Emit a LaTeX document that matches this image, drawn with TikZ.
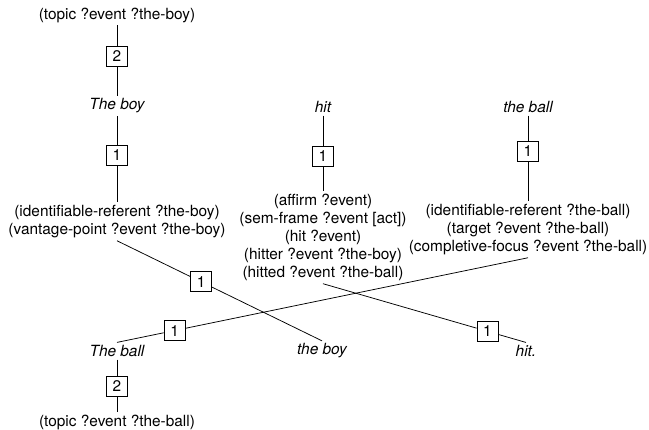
\documentclass[tikz,border=0pt]{standalone}
\usepackage{fontspec}
\setmainfont{TeX Gyre Heros}
\usetikzlibrary{positioning,calc}

\begin{document}
\begin{tikzpicture}[x=1pt,y=-1pt,line width=0.75pt,txt/.style={inner sep=2.5pt,align=center,font=\fontsize{15.4}{18}\selectfont},word/.style={txt,font=\fontsize{15.4}{18}\selectfont\itshape},num/.style={draw,rectangle,minimum width=21pt,minimum height=20pt,inner sep=0pt,font=\fontsize{15.4}{18}\selectfont}]
  \useasboundingbox (0,0) rectangle (649,430);

  \node[txt] (tboy) at (117,15) {(topic ?event ?the-boy)};
  \node[num] (n2a) at (117,56) {2};
  \node[word] (boyA) at (117,106) {The boy};
  \node[num] (n1a) at (117,155) {1};
  \node[txt] (fboy) at (117,221.5) {(identifiable-referent ?the-boy)\\(vantage-point ?event ?the-boy)};

  \node[word] (hitA) at (323,107) {hit};
  \node[num] (n1b) at (323,156) {1};
  \node[txt] (fhit) at (323,237.5) {(affirm ?event)\\(sem-frame ?event [act])\\(hit ?event)\\(hitter ?event ?the-boy)\\(hitted ?event ?the-ball)};

  \node[word] (ballA) at (528,107) {the ball};
  \node[num] (n1c) at (528,151) {1};
  \node[txt] (fball) at (528,229.5) {(identifiable-referent ?the-ball)\\(target ?event ?the-ball)\\(completive-focus ?event ?the-ball)};

  \node[word] (ballB) at (117,351) {The ball};
  \node[word] (boyB) at (322,351) {the boy};
  \node[word] (hitB) at (526,351) {hit.};
  \node[num] (n2b) at (117,386) {2};
  \node[txt] (tball) at (117,422) {(topic ?event ?the-ball)};

  \node[num] (n1d) at ($(fboy.south)!0.41!(boyB.north)$) {1};
  \node[num] (n1e) at ($(fhit.south)!0.81!(hitB.north)$) {1};
  \node[num] (n1f) at ($(ballB.north)!0.14!(fball.south)$) {1};

  \draw (tboy) -- (n2a) -- (boyA) -- (n1a) -- (fboy);
  \draw (hitA) -- (n1b) -- (fhit);
  \draw (ballA) -- (n1c) -- (fball);
  \draw (ballB) -- (n2b) -- (tball);

  \draw (fboy.south) -- (n1d) -- (boyB.north);
  \draw (fhit.south) -- (n1e) -- (hitB.north);
  \draw (ballB.north) -- (n1f) -- (fball.south);

\end{tikzpicture}
\end{document}
